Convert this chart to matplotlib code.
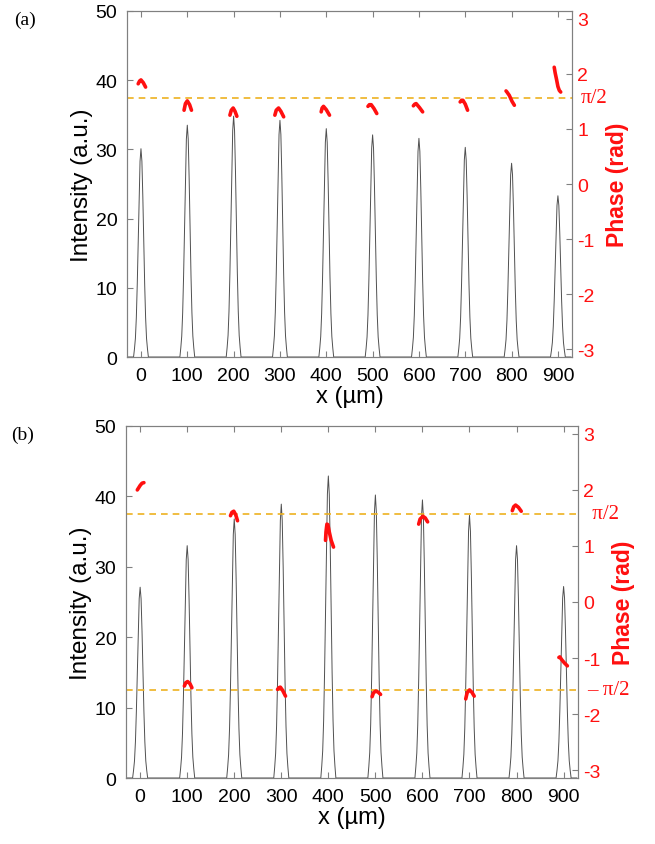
import numpy as np
import matplotlib
matplotlib.use("Agg")
import matplotlib.pyplot as plt
import matplotlib.transforms as mtransforms

plt.rcParams["font.family"] = ["Liberation Sans", "DejaVu Sans"]
plt.rcParams["axes.unicode_minus"] = False

# ----------------------------
# peak positions / heights
# ----------------------------
peak_x = [0, 100, 200, 300, 400, 500, 600, 700, 800, 900]
height_a = [30.1, 33.5, 34.8, 34.2, 33.0, 32.1, 31.6, 30.3, 28.0, 23.3]
height_b = [27.1, 33.0, 36.8, 38.9, 42.9, 40.2, 39.5, 37.3, 33.0, 27.2]

# normalised line shape of one peak (offset in um -> relative intensity)
profile_dx = [-16, -14, -12, -10, -8, -6, -4, -2, 0, 2, 4, 6, 8, 10, 12, 14, 16]
profile_y = [0, 0.04, 0.09, 0.19, 0.35, 0.55, 0.77, 0.94, 1.0,
             0.94, 0.77, 0.55, 0.35, 0.19, 0.09, 0.04, 0]

# ----------------------------
# phase segments at each peak (x in um, phase in rad)
# ----------------------------
phase_a_x = [
    [-6, -3, 0, 5, 10],
    [93, 96, 100, 105, 109],
    [192, 195, 199, 203, 207],
    [289, 292, 297, 302, 308],
    [389, 391, 394, 400, 407],
    [490, 493, 497, 503, 509],
    [588, 591, 594, 601, 608],
    [689, 692, 695, 700, 705],
    [788, 790, 795, 801, 806],
    [892, 894, 897, 900, 903, 906],
]
phase_a = [
    [1.82, 1.87, 1.89, 1.84, 1.76],
    [1.34, 1.46, 1.51, 1.44, 1.34],
    [1.25, 1.34, 1.38, 1.32, 1.23],
    [1.25, 1.34, 1.38, 1.32, 1.22],
    [1.31, 1.38, 1.41, 1.35, 1.25],
    [1.41, 1.44, 1.44, 1.37, 1.28],
    [1.42, 1.45, 1.46, 1.39, 1.31],
    [1.49, 1.52, 1.52, 1.45, 1.34],
    [1.69, 1.67, 1.61, 1.50, 1.43],
    [2.12, 2.02, 1.90, 1.77, 1.70, 1.67],
]

phase_b_x = [
    [-6, -3, 0, 4, 8],
    [94, 97, 101, 106, 110],
    [192, 195, 199, 203, 207],
    [292, 295, 298, 303, 309],
    [394, 395, 397, 399, 402, 406, 411],
    [493, 496, 501, 506, 511],
    [592, 595, 601, 606, 611],
    [692, 695, 700, 705, 710],
    [791, 794, 798, 804, 810],
    [890, 892, 896, 902, 908],
]
phase_b = [
    [2.00, 2.04, 2.08, 2.12, 2.13],
    [-1.50, -1.44, -1.42, -1.46, -1.53],
    [1.54, 1.60, 1.62, 1.56, 1.45],
    [-1.56, -1.53, -1.52, -1.58, -1.68],
    [1.10, 1.25, 1.39, 1.38, 1.25, 1.10, 0.98],
    [-1.69, -1.62, -1.59, -1.61, -1.65],
    [1.39, 1.48, 1.53, 1.50, 1.43],
    [-1.73, -1.62, -1.57, -1.61, -1.68],
    [1.63, 1.70, 1.73, 1.69, 1.62],
    [-0.99, -0.98, -1.03, -1.09, -1.14],
]

x_ticks = [0, 100, 200, 300, 400, 500, 600, 700, 800, 900]
int_ticks = [0, 10, 20, 30, 40, 50]
phase_ticks = [-3, -2, -1, 0, 1, 2, 3]

GRAY = "#808080"
RED = "#ff1010"
GOLD = "#EDB120"
SERIF = ["Liberation Serif", "DejaVu Serif"]


def build_trace(heights):
    xs = [-28.0]
    ys = [0.0]
    for c, h in zip(peak_x, heights):
        for dx, p in zip(profile_dx, profile_y):
            xs.append(c + dx)
            ys.append(h * p)
    xs.append(928.0)
    ys.append(0.0)
    return np.array(xs), np.array(ys)


def draw_panel(ax, heights, seg_x, seg_p, levels, letter):
    x, y = build_trace(heights)
    ax.plot(x, y, color="#505050", lw=0.7)
    ax.set_xlim(-30, 930)
    ax.set_ylim(0, 50)
    ax.set_xticks(x_ticks)
    ax.set_yticks(int_ticks)
    ax.tick_params(direction="in", top=True, right=False, labelsize=14,
                   color=GRAY, length=4, pad=7)
    ax.set_xlabel("x (µm)", fontsize=17, labelpad=1)
    ax.set_ylabel("Intensity (a.u.)", fontsize=17.5, labelpad=2)
    for s in ax.spines.values():
        s.set_color(GRAY)

    ax2 = ax.twinx()
    ax2.set_ylim(-np.pi, np.pi)
    ax2.set_yticks(phase_ticks)
    ax2.tick_params(direction="in", labelsize=14, labelcolor=RED,
                    color=GRAY, length=4, pad=4)
    for s in ax2.spines.values():
        s.set_color(GRAY)
    ax2.set_ylabel("Phase (rad)", fontsize=16.5, fontweight="bold",
                   color=RED, labelpad=8)

    trans = mtransforms.blended_transform_factory(ax2.transAxes, ax2.transData)
    for lv, txt in levels:
        ax2.axhline(lv, color=GOLD, lw=1.2, ls=(0, (4, 3)))
        ax2.text(1.02, lv, txt, transform=trans, color=RED, fontsize=15,
                 family=SERIF, va="center", ha="left")

    for sx, sp in zip(seg_x, seg_p):
        ax2.plot(sx, sp, color=RED, lw=2.6, solid_capstyle="round",
                 solid_joinstyle="round")

    ax.text(-0.255, 1.0, letter, transform=ax.transAxes, fontsize=14,
            family=SERIF, va="top", ha="left")
    return ax2


fig = plt.figure(figsize=(6.55, 8.45), dpi=100)
ax_a = fig.add_axes([0.194, 0.5763, 0.679, 0.4095])
ax_b = fig.add_axes([0.1924, 0.0781, 0.6896, 0.4166])

draw_panel(ax_a, height_a, phase_a_x, phase_a,
           [(np.pi / 2, "π/2")], "(a)")
draw_panel(ax_b, height_b, phase_b_x, phase_b,
           [(np.pi / 2, " π/2"), (-np.pi / 2, "– π/2")], "(b)")

fig.savefig("out.png", dpi=100)
